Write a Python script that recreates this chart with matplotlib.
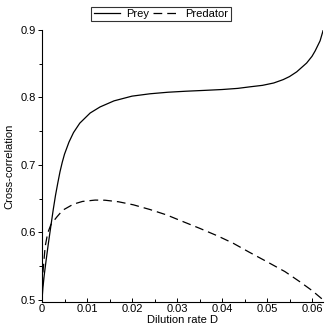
import matplotlib
matplotlib.use("Agg")
import matplotlib.pyplot as plt
from matplotlib.ticker import MultipleLocator

plt.rcParams['font.family'] = ['Liberation Sans', 'DejaVu Sans']

prey_D = [0, 0.0002, 0.0005, 0.0009, 0.0014, 0.002, 0.0025, 0.003, 0.0035, 0.004,
          0.0045, 0.005, 0.006, 0.007, 0.0084, 0.0107, 0.0129, 0.016, 0.020, 0.024,
          0.028, 0.032, 0.036, 0.040, 0.0435, 0.0462, 0.049, 0.0515, 0.0536, 0.055,
          0.0566, 0.0588, 0.060, 0.0607, 0.0618, 0.0625]
prey_val = [0.5, 0.518, 0.537, 0.558, 0.583, 0.611, 0.634, 0.655, 0.673, 0.690,
            0.704, 0.716, 0.734, 0.748, 0.762, 0.777, 0.786, 0.795, 0.802, 0.8055,
            0.8078, 0.8093, 0.8105, 0.8118, 0.8135, 0.8158, 0.818, 0.8215, 0.8265, 0.831,
            0.838, 0.851, 0.861, 0.869, 0.884, 0.9]

pred_D = [0, 0.0002, 0.0007, 0.00126, 0.002, 0.0033, 0.0046, 0.007, 0.009, 0.0118,
          0.014, 0.017, 0.0203, 0.024, 0.0277, 0.031, 0.0351, 0.039, 0.0425, 0.046,
          0.0499, 0.054, 0.0573, 0.060, 0.0625]
pred_val = [0.5, 0.54, 0.579, 0.599, 0.612, 0.623, 0.633, 0.642, 0.646, 0.648,
            0.6478, 0.6455, 0.641, 0.634, 0.626, 0.617, 0.606, 0.595, 0.584, 0.571,
            0.557, 0.542, 0.527, 0.514, 0.5]

x_ticks = [0, 0.01, 0.02, 0.03, 0.04, 0.05, 0.06]
x_labels = ['0', '0.01', '0.02', '0.03', '0.04', '0.05', '0.06']
y_ticks = [0.5, 0.6, 0.7, 0.8, 0.9]
y_labels = ['0.5', '0.6', '0.7', '0.8', '0.9']

fig = plt.figure(figsize=(3.32, 3.32), dpi=100)
W = H = 332
ax = fig.add_axes([42 / W, 30 / H, (323.25 - 42) / W, (302 - 30) / H])

ax.plot(prey_D, prey_val, color='black', lw=0.9, label='Prey')
ax.plot(pred_D, pred_val, color='black', lw=0.9, linestyle=(0, (7, 4)), label='Predator')

ax.set_xlim(0, 0.0625)
ax.set_ylim(0.497, 0.9)
for s in ['top', 'right']:
    ax.spines[s].set_visible(False)
for s in ['left', 'bottom']:
    ax.spines[s].set_linewidth(0.8)

ax.set_xticks(x_ticks)
ax.set_xticklabels(x_labels)
ax.set_yticks(y_ticks)
ax.set_yticklabels(y_labels)
ax.xaxis.set_minor_locator(MultipleLocator(0.005))
ax.yaxis.set_minor_locator(MultipleLocator(0.05))
ax.tick_params(axis='both', which='major', labelsize=8, length=3, width=0.7, pad=1.5)
ax.tick_params(axis='both', which='minor', length=2, width=0.7)
ax.tick_params(axis='x', which='both', direction='in')

ax.set_xlabel('Dilution rate D', fontsize=8, labelpad=1)
ax.set_ylabel('Cross-correlation', fontsize=8, labelpad=4)

leg = fig.legend(loc='center', bbox_to_anchor=(161 / W, 1 - 14 / H), ncol=2,
                 fontsize=8, frameon=True, fancybox=False, handlelength=2.4,
                 handletextpad=0.5, columnspacing=0.4, borderpad=0.2,
                 borderaxespad=0)
leg.get_frame().set_edgecolor('black')
leg.get_frame().set_linewidth(0.8)

fig.savefig('out.png', dpi=100)
